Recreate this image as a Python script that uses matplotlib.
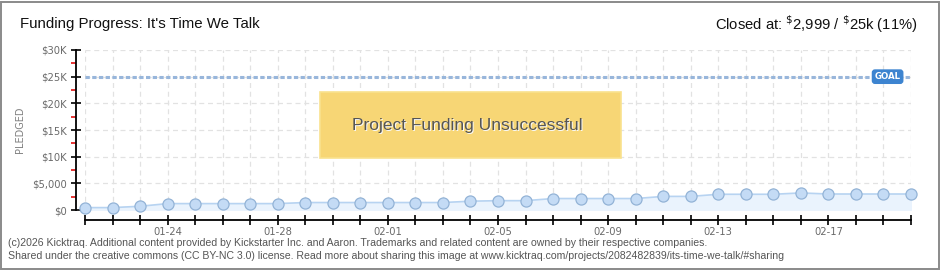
import matplotlib
matplotlib.use("Agg")
import matplotlib.pyplot as plt
from matplotlib.patches import Rectangle
from matplotlib.transforms import ScaledTranslation
import numpy as np

# data: one point per day, 01-21 .. 02-20
days = ["01-21", "01-22", "01-23", "01-24", "01-25", "01-26", "01-27", "01-28",
        "01-29", "01-30", "01-31", "02-01", "02-02", "02-03", "02-04", "02-05",
        "02-06", "02-07", "02-08", "02-09", "02-10", "02-11", "02-12", "02-13",
        "02-14", "02-15", "02-16", "02-17", "02-18", "02-19", "02-20"]
pledged = [450, 450, 700, 1200, 1200, 1200, 1200, 1200,
           1400, 1400, 1400, 1400, 1400, 1400, 1650, 1750,
           1750, 2150, 2150, 2150, 2150, 2550, 2550, 2950,
           2950, 2950, 3200, 2999, 2999, 2999, 2999]
goal = 25000
label_days = ["01-24", "01-28", "02-01", "02-05", "02-09", "02-13", "02-17"]
y_ticks = [0, 5000, 10000, 15000, 20000, 25000, 30000]
y_labels = ["$0", "$5,000", "$10K", "$15K", "$20K", "$25K", "$30K"]

SANS = ["Liberation Sans", "DejaVu Sans"]
W, H = 940, 270
fig = plt.figure(figsize=(W / 100, H / 100), dpi=100)
fig.patch.set_facecolor("white")

# outer grey frame
fig.add_artist(Rectangle((0.5 / W, 1.5 / H), (W - 2) / W, (H - 3) / H,
                         transform=fig.transFigure, fill=False,
                         edgecolor="#8a8a8a", linewidth=1.4))

ax = fig.add_axes([85 / W, (H - 210) / H, 826 / W, 160 / H])
x = np.arange(len(days))
ax.set_xlim(0, len(days) - 1)
ax.set_ylim(0, 30000)

# grid
ax.set_yticks(y_ticks)
ax.set_yticks(np.arange(2500, 30000, 5000), minor=True)
ax.set_xticks(x)
ax.grid(True, which="major", color="#e2e2e2", linestyle=(0, (4, 3)), linewidth=0.9)
ax.set_axisbelow(True)

# goal line
ax.axhline(goal, color="#98b6db", linewidth=2.2, linestyle=(0, (1.4, 0.8)), zorder=2)
ax.text(29.15, goal, "GOAL", color="white", fontsize=6.2, fontweight="bold",
        ha="center", va="center", family="DejaVu Sans", zorder=5,
        bbox=dict(boxstyle="round,pad=0.25,rounding_size=0.3", fc="#3d84d0", ec="#3d84d0"))

# pledged line
ax.fill_between(x, pledged, 0, color="#eaf3fd", zorder=2)
ax.plot(x, pledged, color="#b7d3f1", linewidth=1.2, zorder=3)
ax.plot(x, pledged, "o", markersize=8, markerfacecolor="#c4dbf5",
        markeredgecolor="#93b3d6", markeredgewidth=0.9, zorder=4, clip_on=False)

# unsuccessful banner
ax.add_patch(Rectangle((8.54, 9750), 10.93, 12350, facecolor="#f7d675",
                       edgecolor="#f9e28e", linewidth=1.2, zorder=6))
shadow = ax.transData + ScaledTranslation(0.8 / 100, -0.8 / 100, fig.dpi_scale_trans)
ax.text(13.9, 15900, "Project Funding Unsuccessful", fontsize=12.5, color="#f8f8f8",
        ha="center", va="center", family=SANS, zorder=7, transform=shadow)
ax.text(13.9, 15900, "Project Funding Unsuccessful", fontsize=12.5, color="#555555",
        ha="center", va="center", family=SANS, zorder=8)

# axes styling
for s in ("top", "right"):
    ax.spines[s].set_visible(False)
ax.spines["left"].set_position(("outward", 6.5))
ax.spines["bottom"].set_position(("outward", 7.2))
ax.spines["left"].set_linewidth(1.3)
ax.spines["bottom"].set_linewidth(1.3)
ax.set_yticklabels(y_labels)
ax.set_xticklabels([d if d in label_days else "" for d in days])
ax.tick_params(axis="y", which="major", direction="inout", length=7, width=1.2,
               labelsize=7.2, labelcolor="#6a6a6a", pad=3)
ax.tick_params(axis="y", which="minor", direction="out", length=3.5, width=1.2, color="#e01010")
ax.tick_params(axis="x", which="major", direction="inout", length=7, width=1.2,
               labelsize=7.2, labelcolor="#6a6a6a", pad=1.5)
ax.set_ylabel("PLEDGED", fontsize=7, color="#808080")
ax.yaxis.set_label_coords(-60 / 826, 0.5)

# header
fig.text(20 / W, 1 - 24 / H, "Funding Progress: It's Time We Talk", fontsize=10.8,
         family=SANS, va="center", ha="left", color="#111111")
fig.text(917 / W, 1 - 24 / H, r"Closed at: $^{\$}$2,999 / $^{\$}$25k (11%)", fontsize=10.6,
         family=SANS, va="center", ha="right", color="#111111")

# footer
fig.text(8 / W, 1 - 243 / H,
         "(c)2026 Kicktraq. Additional content provided by Kickstarter Inc. and Aaron. "
         "Trademarks and related content are owned by their respective companies.",
         fontsize=7.6, family=SANS, color="#555555", va="center")
fig.text(8 / W, 1 - 256 / H,
         "Shared under the creative commons (CC BY-NC 3.0) license. Read more about sharing this image at "
         "www.kicktraq.com/projects/2082482839/its-time-we-talk/#sharing",
         fontsize=7.6, family=SANS, color="#555555", va="center")

fig.savefig("out.png", dpi=100)
